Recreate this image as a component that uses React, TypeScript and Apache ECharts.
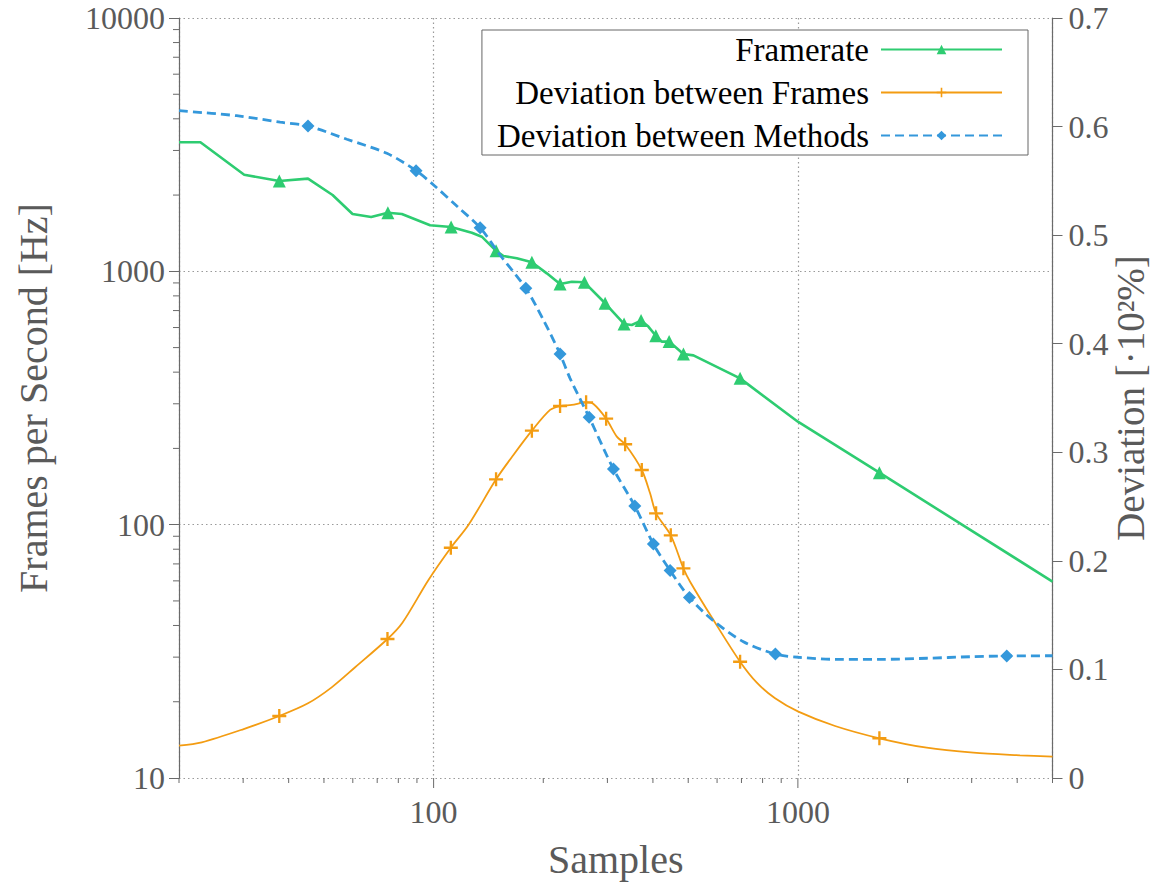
import React, { useEffect, useRef } from "react";
import * as echarts from "echarts";

// ---------- data ----------
const xMajorTicks = [100, 1000];
const xMinorTicks = [20, 30, 40, 50, 60, 70, 80, 90, 200, 300, 400, 500, 600, 700, 800, 900, 2000, 3000, 4000, 5000];
const yMinorTicks = [20, 30, 40, 50, 60, 70, 80, 90, 200, 300, 400, 500, 600, 700, 800, 900, 2000, 3000, 4000, 5000, 6000, 7000, 8000, 9000];

const fpsSamples = [20, 22.9, 30.2, 37.7, 45.2, 52.8, 59.9, 67.4, 74.9, 81.8, 97.8, 111.7, 127.3, 135.6, 148.4, 155.5, 169.2, 186.1, 204.5, 222.4, 239.5, 259.4, 295.7, 333.3, 350, 371.1, 388.6, 407.4, 423.1, 443.1, 485, 516.7, 694, 1000, 1674, 5000];
const fpsValues = [3232, 3232, 2407, 2273, 2322, 2001, 1684, 1639, 1704, 1684, 1520, 1496, 1421, 1370, 1205, 1150, 1126, 1086, 982, 891, 910, 905, 748, 620, 614, 639, 605, 557, 528, 528, 472, 466, 378, 255, 160.4, 59.6];
const fpsMarkers = [0, 0, 0, 1, 0, 0, 0, 0, 1, 0, 0, 1, 0, 0, 1, 0, 0, 1, 0, 1, 0, 1, 1, 1, 0, 1, 0, 1, 0, 1, 1, 0, 1, 0, 1, 0];

const framesSamples = [20, 23.1, 30.1, 37.7, 45.2, 52.5, 60.9, 74.7, 82.1, 96.8, 111.5, 124.6, 148.4, 165.6, 186.1, 208.8, 222.4, 239.5, 262.2, 274.7, 297.6, 318.4, 335.6, 372.8, 392.9, 408.1, 447.8, 485, 505.9, 586.4, 694, 771.4, 865.8, 1003, 1265, 1674, 2258, 3032, 4072, 5000];
const framesValues = [0.0298, 0.0329, 0.0451, 0.0571, 0.0688, 0.0835, 0.102, 0.128, 0.143, 0.1824, 0.2121, 0.233, 0.2751, 0.2975, 0.3199, 0.339, 0.3426, 0.3436, 0.346, 0.3445, 0.331, 0.3144, 0.3074, 0.2837, 0.2622, 0.2438, 0.2235, 0.1931, 0.1808, 0.1455, 0.1071, 0.0878, 0.0734, 0.0611, 0.0479, 0.0366, 0.0279, 0.0233, 0.0209, 0.0196];
const framesMarkers = [0, 0, 0, 1, 0, 0, 0, 1, 0, 0, 1, 0, 1, 0, 1, 0, 1, 0, 1, 0, 1, 0, 1, 1, 0, 1, 1, 1, 0, 0, 1, 0, 0, 0, 0, 1, 0, 0, 0, 0];

const methodsSamples = [20, 28.8, 37.9, 45.2, 57.8, 74.4, 89.5, 100, 115.8, 134.2, 152.2, 179.1, 200.2, 222.4, 236.9, 267.3, 311.6, 356.7, 401.2, 445.9, 503.9, 586.1, 708.7, 867.5, 1003, 1279, 1682, 2258, 2970, 3744, 5000];
const methodsValues = [0.6146, 0.61, 0.604, 0.6005, 0.5883, 0.5754, 0.5594, 0.5462, 0.5268, 0.5068, 0.4817, 0.451, 0.4218, 0.3905, 0.3681, 0.3322, 0.2846, 0.2505, 0.2155, 0.1911, 0.1662, 0.1448, 0.1255, 0.1142, 0.1112, 0.1093, 0.1093, 0.1103, 0.1117, 0.1124, 0.1126];
const methodsMarkers = [0, 0, 0, 1, 0, 0, 1, 0, 0, 1, 0, 1, 0, 1, 0, 1, 1, 1, 1, 1, 1, 0, 0, 1, 0, 0, 0, 0, 0, 1, 0];

const seriesNames = ["Framerate", "Deviation between Frames", "Deviation between Methods"];

// ---------- styles ----------
const SERIF = "'Liberation Serif', 'DejaVu Serif', serif";
const TEXT = "#5a5a5a";
const AXIS = "#6a6a6a";
const GRID = "#9a9a9a";
const GREEN = "#2ecc71";
const ORANGE = "#f39c12";
const BLUE = "#3498db";
const PLUS = "path://M5,0H7V5H12V7H7V12H5V7H0V5H5Z";

function buildData(xs: number[], ys: number[], flags: number[]) {
  return xs.map((x, i) =>
    flags[i] ? { value: [x, ys[i]] } : { value: [x, ys[i]], symbol: "none" }
  );
}

function tickSeries(values: number[], dir: "x" | "y", len: number) {
  return {
    type: "custom",
    silent: true,
    clip: false,
    xAxisIndex: 0,
    yAxisIndex: 0,
    z: 1,
    data: values.map((v) => (dir === "x" ? [v, 10] : [20, v])),
    renderItem: (_params: any, api: any) => {
      const p = api.coord([api.value(0), api.value(1)]);
      const shape =
        dir === "x"
          ? { x1: p[0], y1: p[1], x2: p[0], y2: p[1] + len }
          : { x1: p[0], y1: p[1], x2: p[0] - len, y2: p[1] };
      return { type: "line", shape, style: { stroke: AXIS, lineWidth: 1 } };
    },
  };
}

const intLabel = (v: number) => String(Math.round(v));

export default function App() {
  const ref = useRef<HTMLDivElement>(null);

  useEffect(() => {
    const chart = echarts.init(ref.current!, null, { renderer: "svg" });
    const option: any = {
      animation: false,
      backgroundColor: "#ffffff",
      grid: { left: 179, right: 103.5, top: 18, bottom: 112, containLabel: false, outerBoundsMode: "none" },
      legend: {
        data: seriesNames,
        orient: "vertical",
        right: 128,
        top: 30,
        align: "right",
        itemWidth: 121,
        itemHeight: 12,
        itemGap: 10,
        padding: [3, 25, 3, 15],
        borderColor: "#666",
        borderWidth: 1,
        borderRadius: 0,
        backgroundColor: "#ffffff",
        selectedMode: false,
        textStyle: { fontFamily: SERIF, fontSize: 33, color: "#000", padding: [0, 7, 0, 0] },
      },
      xAxis: {
        type: "log",
        logBase: 10,
        min: 20,
        max: 5000,
        position: "bottom",
        name: "Samples",
        nameLocation: "middle",
        nameGap: 61,
        nameMoveOverlap: false,
        nameTextStyle: { fontFamily: SERIF, fontSize: 40, color: TEXT },
        axisLine: { show: false, onZero: false },
        axisTick: { show: false },
        axisLabel: {
          fontFamily: SERIF,
          fontSize: 32,
          color: TEXT,
          margin: 18,
          showMinLabel: false,
          showMaxLabel: false,
          formatter: intLabel,
        },
        splitLine: { show: true, lineStyle: { color: GRID, type: [1.5, 3], width: 1.2 } },
      },
      yAxis: [
        {
          type: "log",
          logBase: 10,
          min: 10,
          max: 10000,
          position: "left",
          name: "Frames per Second [Hz]",
          nameLocation: "middle",
          nameGap: 126,
          nameRotate: 90,
          nameMoveOverlap: false,
          nameTextStyle: { fontFamily: SERIF, fontSize: 40, color: TEXT },
          axisLine: { show: true, lineStyle: { color: AXIS, width: 1.2 } },
          axisTick: { show: true, length: 10, lineStyle: { color: AXIS } },
          axisLabel: { fontFamily: SERIF, fontSize: 32, color: TEXT, margin: 14, formatter: intLabel },
          splitLine: { show: true, lineStyle: { color: GRID, type: [1.5, 3], width: 1.2 } },
        },
        {
          type: "value",
          min: 0,
          max: 0.7,
          interval: 0.1,
          position: "right",
          name: "Deviation [·10²%]",
          nameLocation: "middle",
          nameGap: 58,
          nameRotate: 90,
          nameMoveOverlap: false,
          nameTextStyle: { fontFamily: SERIF, fontSize: 39, color: TEXT },
          axisLine: { show: true, lineStyle: { color: AXIS, width: 1.2 } },
          axisTick: { show: true, length: 10, lineStyle: { color: AXIS } },
          axisLabel: { fontFamily: SERIF, fontSize: 32, color: TEXT, margin: 16 },
          splitLine: { show: false },
        },
      ],
      series: [
        tickSeries(xMajorTicks, "x", 10),
        tickSeries(xMinorTicks, "x", 5),
        tickSeries(yMinorTicks, "y", 6),
        {
          name: seriesNames[0],
          type: "line",
          xAxisIndex: 0,
          yAxisIndex: 0,
          data: buildData(fpsSamples, fpsValues, fpsMarkers),
          symbol: "triangle",
          symbolSize: 13,
          showAllSymbol: true,
          lineStyle: { color: GREEN, width: 2.6 },
          itemStyle: { color: GREEN },
          z: 3,
        },
        {
          name: seriesNames[1],
          type: "line",
          xAxisIndex: 0,
          yAxisIndex: 1,
          data: buildData(framesSamples, framesValues, framesMarkers),
          symbol: PLUS,
          symbolSize: 14,
          showAllSymbol: true,
          smooth: 0.3,
          lineStyle: { color: ORANGE, width: 1.8 },
          itemStyle: { color: ORANGE },
          z: 4,
        },
        {
          name: seriesNames[2],
          type: "line",
          xAxisIndex: 0,
          yAxisIndex: 1,
          data: buildData(methodsSamples, methodsValues, methodsMarkers),
          symbol: "diamond",
          symbolSize: 13,
          showAllSymbol: true,
          smooth: 0.3,
          lineStyle: { color: BLUE, width: 2.8, type: [9, 5] },
          itemStyle: { color: BLUE },
          z: 5,
        },
      ],
    };
    chart.setOption(option);
    return () => chart.dispose();
  }, []);

  return (
    <div
      ref={ref}
      style={{ position: "fixed", left: 0, top: 0, width: 1156, height: 890, background: "#fff" }}
    />
  );
}
